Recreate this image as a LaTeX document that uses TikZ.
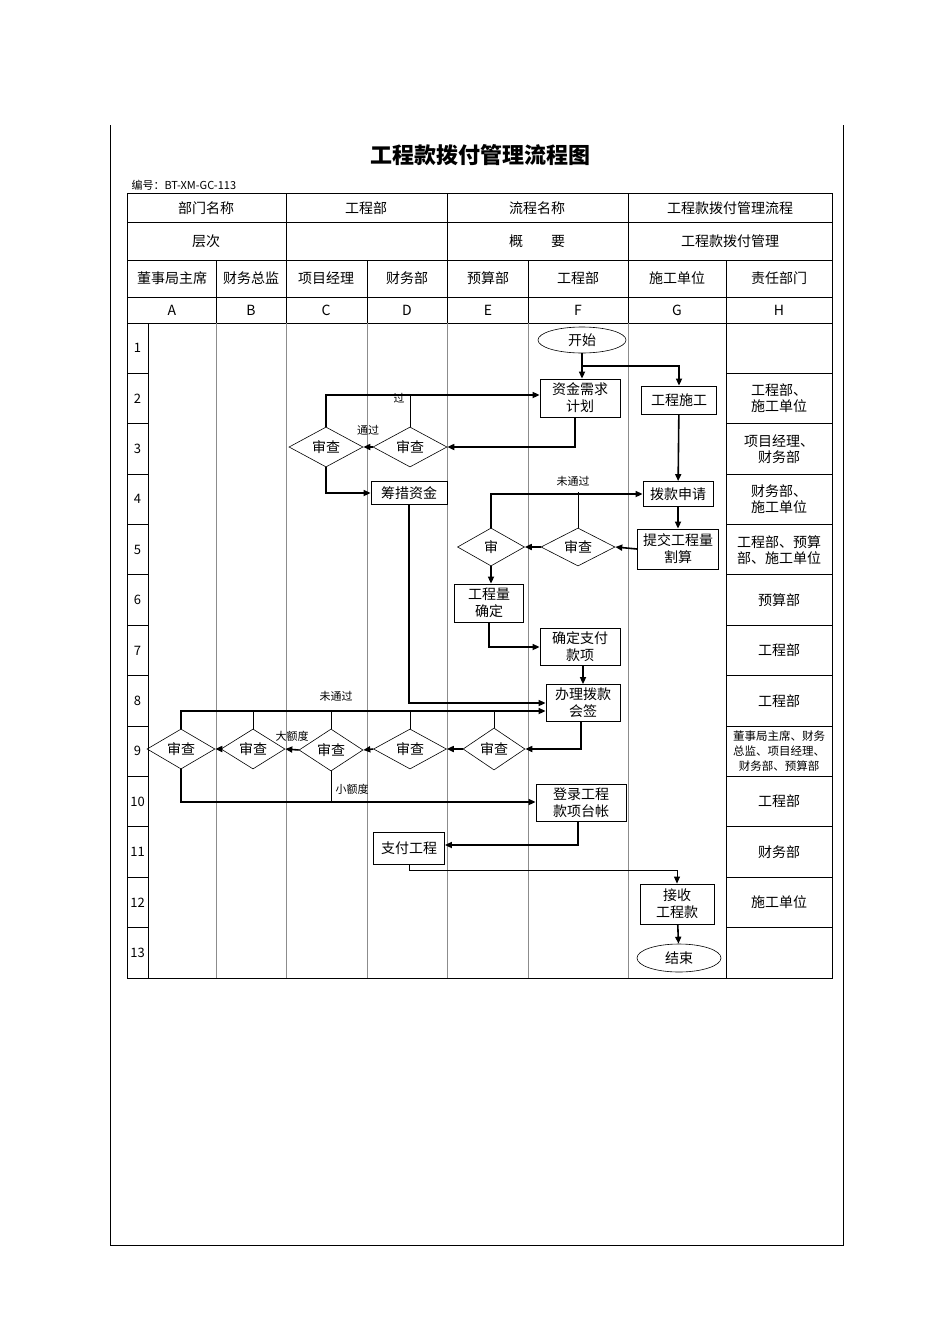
\documentclass[tikz,border=0pt]{standalone}
\usepackage{fontspec}
\setmainfont{Noto Sans CJK SC}
\usetikzlibrary{arrows.meta,shapes.geometric}
\begin{document}
\begin{tikzpicture}[x=1pt,y=-1pt,
  txt/.style={font=\fontsize{14}{16}\selectfont},
  sm/.style={font=\fontsize{11}{13}\selectfont},
  box/.style={draw,line width=0.8pt,inner sep=0pt,align=center,font=\fontsize{14}{17}\selectfont},
  dia/.style={draw,diamond,aspect=1.8,inner sep=0pt,line width=0.6pt,font=\fontsize{14}{16}\selectfont},
  ell/.style={draw,ellipse,inner sep=0pt,line width=0.6pt,font=\fontsize{14}{16}\selectfont},
  grid/.style={line width=0.6pt,black!45},
  tbl/.style={line width=0.9pt},
  fl/.style={line width=1.6pt,-{Triangle[length=7pt,width=6pt]}},
  th/.style={line width=0.8pt},
  tha/.style={line width=0.8pt,-{Triangle[length=7pt,width=6pt]}}]
\useasboundingbox (0,0) rectangle (950,1344);
% page frame
\draw[line width=0.6pt] (110,125) -- (110,1245) -- (843,1245) -- (843,125);
\node[font=\fontsize{22}{24}\selectfont\bfseries] (title) at (480,155) {工程款拨付管理流程图};
\node[sm,anchor=west] (code) at (128,185) {编号：BT-XM-GC-113};
% table outline and header
\draw[tbl] (127,193) rectangle (832,978);
\foreach \y in {222,260,297,323} \draw[tbl] (127,\y) -- (832,\y);
\foreach \x in {286,447,628} \draw[tbl] (\x,193) -- (\x,260);
\foreach \x in {216,286,367,447,528,628,726} \draw[tbl] (\x,260) -- (\x,323);
\node[txt] (h1) at (206,208) {部门名称};
\node[txt] (h2) at (366,208) {工程部};
\node[txt] (h3) at (537,208) {流程名称};
\node[txt] (h4) at (730,208) {工程款拨付管理流程};
\node[txt] (h5) at (206,241) {层次};
\node[txt] (h6) at (537,241) {概　　要};
\node[txt] (h7) at (730,241) {工程款拨付管理};
\foreach \c/\t/\n in {172/董事局主席/a,251/财务总监/b,326/项目经理/c,407/财务部/d,488/预算部/e,578/工程部/f,677/施工单位/g,779/责任部门/h}
  \node[txt] (dep\n) at (\c,278.5) {\t};
\foreach \c/\t in {172/A,251/B,326/C,407/D,488/E,578/F,677/G,779/H}
  \node[txt] (col\t) at (\c,310) {\t};
% body grid
\foreach \x in {148,216,286,367,447,528,628} \draw[grid] (\x,323) -- (\x,978);
\draw[tbl] (148,323) -- (148,978);
\draw[tbl] (726,323) -- (726,978);
\foreach \i [evaluate=\i as \y using 323+50.38*\i] in {1,...,12} {
  \draw[tbl] (127,\y) -- (148,\y);
  \draw[tbl] (726,\y) -- (832,\y);
}
\foreach \i [evaluate=\i as \y using 323+50.38*(\i-0.5)] in {1,...,13}
  \node[font=\fontsize{13}{15}\selectfont] (r\i) at (137.5,\y) {\i};
% responsibility column
\foreach \i/\t in {2/{工程部、\\施工单位},3/{项目经理、\\财务部},4/{财务部、\\施工单位},5/{工程部、预算\\部、施工单位},6/预算部,7/工程部,8/工程部,10/工程部,11/财务部,12/施工单位}
  \node[txt,align=center] (resp\i) at (779,{323+50.38*(\i-0.5)}) {\t};
\node[font=\fontsize{11.5}{15}\selectfont,align=center] (resp9) at (779,751) {董事局主席、财务\\总监、项目经理、\\财务部、预算部};
% nodes
\node[ell,minimum width=88,minimum height=26] (start) at (582,340) {开始};
\node[box,minimum width=80,minimum height=38] (plan) at (580,398) {资金需求\\计划};
\node[box,minimum width=75,minimum height=28] (build) at (679,400) {工程施工};
\node[dia,minimum width=74,minimum height=40] (dD) at (410,447) {审查};
\node[dia,minimum width=74,minimum height=40] (dC) at (326,447) {审查};
\node[box,minimum width=76,minimum height=23] (raise) at (409,493) {筹措资金};
\node[box,minimum width=70,minimum height=25] (apply) at (678,494) {拨款申请};
\node[box,minimum width=81,minimum height=40] (submit) at (678,549) {提交工程量\\割算};
\node[dia,minimum width=74,minimum height=38] (dF) at (578,547) {审查};
\node[dia,minimum width=67,minimum height=38] (dE) at (491,547) {审};
\node[box,minimum width=69,minimum height=38] (qty) at (489,603) {工程量\\确定};
\node[box,minimum width=80,minimum height=37] (pay) at (580,647) {确定支付\\款项};
\node[box,minimum width=74,minimum height=37] (sign) at (583,703) {办理拨款\\会签};
\node[dia,minimum width=68,minimum height=40] (a9) at (181,749) {审查};
\node[dia,minimum width=64,minimum height=40] (b9) at (253,749) {审查};
\node[dia,minimum width=64,minimum height=42] (c9) at (331,750) {审查};
\node[dia,minimum width=73,minimum height=40] (d9) at (410,749) {审查};
\node[dia,minimum width=62,minimum height=42] (e9) at (494,749) {审查};
\node[box,minimum width=90,minimum height=37] (ledger) at (581,803) {登录工程\\款项台帐};
\node[box,minimum width=71,minimum height=32] (payp) at (409,848) {支付工程};
\node[box,minimum width=74,minimum height=40] (recv) at (677,904) {接收\\工程款};
\node[ell,minimum width=84,minimum height=28] (end) at (679,958) {结束};
% connectors
\draw[fl] (start) -- (plan.north -| start);
\draw[fl] (start.south |- 0,366) -| (build.north);
\draw[fl] ([xshift=-5pt]plan.south) |- (dD.east);
\draw[fl] (dD.west) -- (dC.east);
\node[sm] (lb1) at (368,430) {通过};
\draw[th] (dD.north) -- (410,395);
\draw[fl] (dC.north) |- (plan.west |- 0,395);
\node[sm] (lb2) at (399,398) {过};
\draw[fl] (dC.south) |- (raise.west);
\draw[fl] (build) -- (apply);
\draw[fl] (apply) -- (submit);
\draw[fl] (submit.west) -- (dF.east);
\draw[fl] (dF.west) -- (dE.east);
\draw[th] (dF.north) -- (578,492);
\draw[fl] (dE.north) |- (apply.west);
\node[sm] (lb3) at (573,481) {未通过};
\draw[fl] (dE.south) -- (qty.north -| dE);
\draw[fl] (qty.south) |- (pay.west);
\draw[fl] (pay.south -| sign) -- (sign.north);
\draw[fl] (raise.south) |- (sign.west);
\draw[fl] ([xshift=-2pt]sign.south) |- (e9.east);
\draw[fl] (e9.west) -- (d9.east);
\draw[fl] (d9.west) -- (c9.east);
\draw[fl] (c9.west) -- (b9.east);
\node[sm] (lb4) at (292,736) {大额度};
\draw[fl] (b9.west) -- (a9.east);
\foreach \n in {b9,c9,d9,e9} \draw[th] (\n.north) -- (\n.north |- 0,711);
\draw[fl] (a9.north) |- (sign.west |- 0,711);
\node[sm] (lb5) at (336,696) {未通过};
\draw[th] (c9.south) -- (c9.south |- 0,802);
\draw[fl] (a9.south) |- (ledger.west |- 0,802);
\node[sm] (lb6) at (352,789) {小额度};
\draw[fl] ([xshift=-3pt]ledger.south) |- (payp.east |- 0,845);
\draw[tha] (payp.south) |- (recv.north |- 0,870) -- (recv.north);
\draw[fl] (recv) -- (end);
\end{tikzpicture}
\end{document}
